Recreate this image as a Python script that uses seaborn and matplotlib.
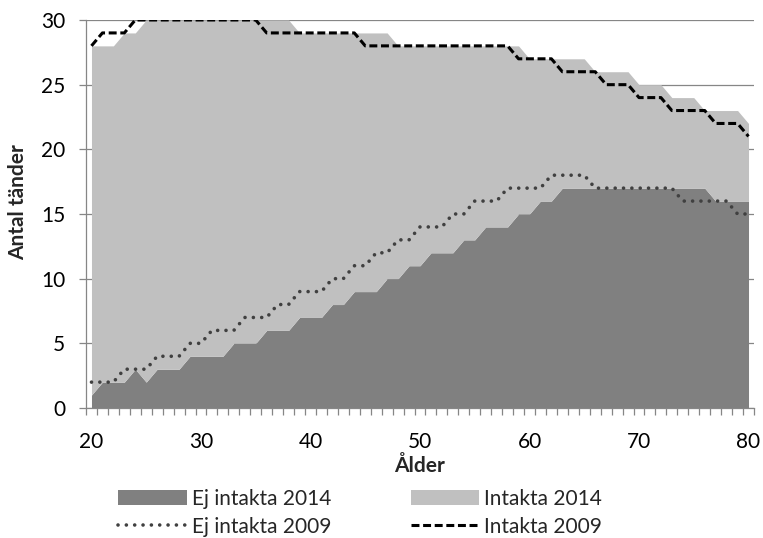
import matplotlib
matplotlib.use("Agg")
import matplotlib.pyplot as plt
import seaborn as sns
import numpy as np

ages = list(range(20, 81))
ej_intakta_2014 = [1, 2, 2, 2, 3, 2, 3, 3, 3, 4,
                   4, 4, 4, 5, 5, 5, 6, 6, 6, 7,
                   7, 7, 8, 8, 9, 9, 9, 10, 10, 11,
                   11, 12, 12, 12, 13, 13, 14, 14, 14, 15,
                   15, 16, 16, 17, 17, 17, 17, 17, 17, 17,
                   17, 17, 17, 17, 17, 17, 17, 16, 16, 16,
                   16]
intakta_2014 = [27, 26, 26, 27, 26, 28, 27, 27, 27, 26,
                26, 26, 26, 25, 25, 25, 24, 24, 24, 22,
                22, 22, 21, 21, 20, 20, 20, 19, 18, 17,
                17, 16, 16, 16, 15, 15, 14, 14, 14, 13,
                12, 11, 11, 10, 10, 10, 9, 9, 9, 9,
                8, 8, 8, 7, 7, 7, 6, 7, 7, 7,
                6]
ej_intakta_2009 = [2, 2, 2, 3, 3, 3, 4, 4, 4, 5,
                   5, 6, 6, 6, 7, 7, 7, 8, 8, 9,
                   9, 9, 10, 10, 11, 11, 12, 12, 13, 13,
                   14, 14, 14, 15, 15, 16, 16, 16, 17, 17,
                   17, 17, 18, 18, 18, 18, 17, 17, 17, 17,
                   17, 17, 17, 17, 16, 16, 16, 16, 16, 15,
                   15]
intakta_2009 = [28, 29, 29, 29, 30, 30, 30, 30, 30, 30,
                30, 30, 30, 30, 30, 30, 29, 29, 29, 29,
                29, 29, 29, 29, 29, 28, 28, 28, 28, 28,
                28, 28, 28, 28, 28, 28, 28, 28, 28, 27,
                27, 27, 27, 26, 26, 26, 26, 25, 25, 25,
                24, 24, 24, 23, 23, 23, 23, 22, 22, 22,
                21]

x_ticks = [20, 30, 40, 50, 60, 70, 80]
y_ticks = [0, 5, 10, 15, 20, 25, 30]
labels = ["Ej intakta 2014", "Intakta 2014", "Ej intakta 2009", "Intakta 2009"]

sns.set_theme(style="white")
plt.rcParams["font.family"] = ["Lato", "DejaVu Sans"]

FS = 15
GRID = "#868686"
fig = plt.figure(figsize=(7.63, 5.38), dpi=100)
ax = fig.add_axes([86 / 763, 1 - 408 / 538, 668 / 763, 388 / 538])

ax.stackplot(ages, ej_intakta_2014, intakta_2014,
             colors=["#808080", "#C0C0C0"], linewidth=0,
             labels=labels[:2], zorder=2)
sns.lineplot(x=ages, y=ej_intakta_2009, ax=ax, color="#404040", lw=2.6,
             linestyle=(0, (0.01, 2.3)), dash_capstyle="round",
             label=labels[2], zorder=3)
sns.lineplot(x=ages, y=intakta_2009, ax=ax, color="black", lw=2.2,
             linestyle=(0, (2.6, 1.2)), label=labels[3], zorder=4)

ax.set_xlim(19.5, 80.5)
ax.set_ylim(0, 30)
ax.set_axisbelow(True)
ax.yaxis.grid(True, color=GRID, lw=0.9)
ax.xaxis.grid(False)

for s in ["top", "right"]:
    ax.spines[s].set_visible(False)
for s in ["left", "bottom"]:
    ax.spines[s].set_color(GRID)
    ax.spines[s].set_linewidth(0.9)
    ax.spines[s].set_zorder(5)

ax.set_xticks(x_ticks)
ax.set_xticks(np.arange(19.5, 81, 1), minor=True)
ax.set_yticks(y_ticks)
ax.tick_params(axis="x", which="major", length=0, pad=17, labelsize=FS, colors="black")
ax.tick_params(axis="x", which="minor", length=5, width=0.9, color=GRID, direction="out", bottom=True)
ax.tick_params(axis="y", which="major", length=5, width=0.9, color=GRID, direction="out",
               left=True, pad=10, labelsize=FS, labelcolor="black")

ax.set_xlabel("Ålder", fontsize=FS, fontweight="bold")
ax.xaxis.set_label_coords(0.5, (408 - 466) / 388)
ax.xaxis.label.set_va("center")
ax.set_ylabel("Antal tänder", fontsize=FS, fontweight="bold")
ax.yaxis.set_label_coords((18.5 - 86) / 668, 0.53)
ax.yaxis.label.set_va("center")

ax.get_legend().remove()
handles, labs = ax.get_legend_handles_labels()
hmap = dict(zip(labs, handles))
order = [labels[0], labels[2], labels[1], labels[3]]
fig.legend([hmap[l] for l in order], order, ncol=2, frameon=False,
           loc="upper left", bbox_to_anchor=(118 / 763, 1 - 489 / 538),
           fontsize=FS, handlelength=3.3, handleheight=0.75, handletextpad=0.25,
           columnspacing=3.8, labelspacing=0.38, borderpad=0, borderaxespad=0)

fig.savefig("out.png", dpi=100)
